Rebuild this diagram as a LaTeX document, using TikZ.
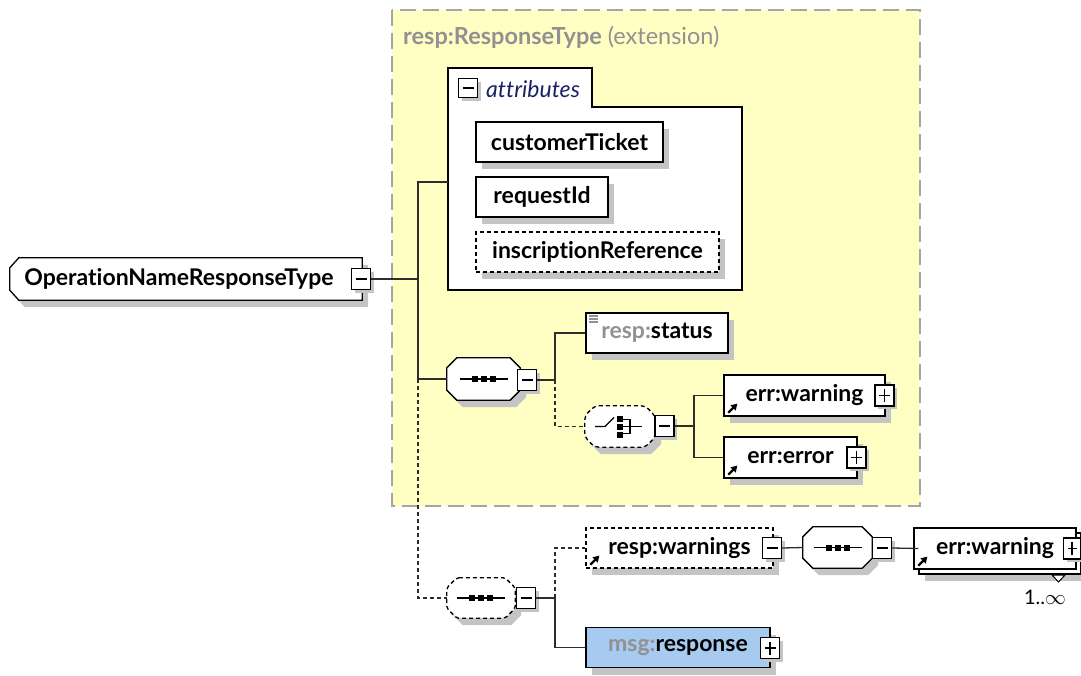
\documentclass[tikz,border=0pt]{standalone}
\usepackage{fontspec}
\setmainfont{Lato}[Ligatures=NoCommon]
\usetikzlibrary{calc,shadows,arrows.meta,backgrounds}

\definecolor{extfill}{RGB}{255,255,196}
\definecolor{extline}{RGB}{165,165,165}
\definecolor{shadowgray}{RGB}{196,196,196}
\definecolor{wiregray}{RGB}{45,45,45}
\definecolor{prefixgray}{RGB}{145,145,145}
\definecolor{typeblue}{RGB}{166,202,240}
\definecolor{attrblue}{RGB}{25,35,100}

\newcommand\xsdfont{\fontsize{23}{26}\selectfont\bfseries}

% octagon outline of a compositor node, with its shadow
\newcommand\drawoctagon[2]{%
  \fill[shadowgray] ($(#1.north west)+(16,7)$) -- ($(#1.north east)+(-4,7)$) -- ($(#1.north east)+(6,17)$)
    -- ($(#1.south east)+(6,-3)$) -- ($(#1.south east)+(-4,7)$) -- ($(#1.south west)+(16,7)$)
    -- ($(#1.south west)+(6,-3)$) -- ($(#1.north west)+(6,17)$) -- cycle;
  \draw[compline, #2] ($(#1.north west)+(10,0)$) -- ($(#1.north east)+(-10,0)$) -- ($(#1.north east)+(0,10)$)
    -- ($(#1.south east)+(0,-10)$) -- ($(#1.south east)+(-10,0)$) -- ($(#1.south west)+(10,0)$)
    -- ($(#1.south west)+(0,-10)$) -- ($(#1.north west)+(0,10)$) -- cycle;}

\tikzset{
  plainelem/.style={draw=black, line width=1.3pt, fill=white, inner sep=0pt, font=\xsdfont},
  elem/.style={plainelem, drop shadow={shadow xshift=6pt, shadow yshift=-7pt, fill=shadowgray, opacity=1}},
  optelem/.style={elem, dash pattern=on 4pt off 3pt},
  toggle/.style={draw=black, line width=1.1pt, fill=white, minimum width=19pt, minimum height=21pt, inner sep=0pt,
    drop shadow={shadow xshift=3pt, shadow yshift=-3pt, fill=shadowgray, opacity=1}},
  collapse/.style={toggle, path picture={
    \draw[line width=1.1pt] ([xshift=4pt]path picture bounding box.west) -- ([xshift=-4pt]path picture bounding box.east);}},
  expand/.style={toggle, path picture={
    \draw[line width=1.1pt] ([xshift=4pt]path picture bounding box.west) -- ([xshift=-4pt]path picture bounding box.east);
    \draw[line width=1.1pt] ([yshift=4pt]path picture bounding box.south) -- ([yshift=-4pt]path picture bounding box.north);}},
  compositor/.style={rectangle, inner sep=0pt},
  compline/.style={draw=black, line width=1.3pt, fill=white},
  optline/.style={dash pattern=on 4pt off 3pt},
  wireline/.style={draw=wiregray, line width=1.3pt},
  optwire/.style={wireline, dash pattern=on 4pt off 3pt},
  seqmark/.pic={
    \draw[line width=1.3pt] (-24,0) -- (24,0);
    \foreach \dx in {-9,0,9} \fill (\dx-3,-3) rectangle (\dx+3,3);
  },
  choicemark/.pic={
    \draw[line width=1.3pt] (-25,0) -- (-15,0) -- (-6,-9);
    \foreach \dy in {-8,0,8} \fill (-3,\dy-3) rectangle (3,\dy+3);
    \draw[line width=1.3pt] (3,-7) -- (10,-7) -- (10,7) -- (3,7);
    \draw[line width=1.3pt] (3,0) -- (22,0);
  },
  reficon/.pic={
    \draw[line width=2.2pt, -{Triangle[length=6pt,width=7pt]}] (0,0) -- (9,-9);
  }
}

\begin{document}
\begin{tikzpicture}[x=1pt, y=-1pt]
\useasboundingbox (0,0) rectangle (1081,675);

% extension frame
\draw[extline, fill=extfill, line width=1.3pt, dash pattern=on 16pt off 7pt] (392,10) rectangle (920,506);
\node[anchor=west, font=\fontsize{23.5}{26}\selectfont, text=prefixgray, inner sep=0pt] (exttitle) at (403,37)
  {\textbf{resp:ResponseType} (extension)};

% attributes group
\draw[line width=1.3pt, fill=white] (448,290) -- (448,68) -- (592,68) -- (592,107) -- (742,107) -- (742,290) -- cycle;
\coordinate (attrin) at (448,182);
\node[collapse, minimum width=19pt, minimum height=19pt, drop shadow={opacity=0}] (attrT) at (468,88) {};
\node[anchor=west, font=\fontsize{23}{26}\selectfont\itshape, text=attrblue, inner sep=0pt] (attrlabel) at (486,89) {attributes};
\node[elem, minimum width=187pt, minimum height=40pt] (ticket) at (569.5,142) {customerTicket};
\node[elem, minimum width=132pt, minimum height=40pt] (reqid) at (542,197) {requestId};
\node[optelem, minimum width=243pt, minimum height=40pt] (inscr) at (597.5,252) {inscriptionReference};

% root type
\node[font=\xsdfont, inner sep=0pt, minimum width=338pt, minimum height=42pt] (root) at (179,279) {OperationNameResponseType};
\begin{pgfonlayer}{background}
  \fill[shadowgray] ($(root.north west)+(15,7)$) -- ($(root.north east)+(20,7)$) -- ($(root.south east)+(20,7)$)
    -- ($(root.south west)+(15,7)$) -- ($(root.south west)+(6,-3)$) -- ($(root.north west)+(6,17)$) -- cycle;
  \draw[compline] ($(root.north west)+(9,0)$) -- ($(root.north east)+(14,0)$) -- ($(root.south east)+(14,0)$)
    -- ($(root.south west)+(9,0)$) -- ($(root.south west)+(0,-10)$) -- ($(root.north west)+(0,10)$) -- cycle;
\end{pgfonlayer}
\node[collapse] (rootT) at (361,279) {};
\coordinate (j1) at (418,279);

% base sequence
\node[compositor, minimum width=73pt, minimum height=42pt] (seq1) at (483.5,379) {};
\drawoctagon{seq1}{}
\pic at (seq1.center) {seqmark};
\node[collapse] (seq1T) at (527,380) {};
\coordinate (j2) at (555,380);
\node[elem, minimum width=142pt, minimum height=40pt] (status) at (657,333) {\textcolor{prefixgray}{resp:}status};
\foreach \ly in {316,319,322} \draw[prefixgray, line width=1.2pt] (589,\ly) -- (598,\ly);

% choice
\node[compositor, minimum width=70pt, minimum height=41pt] (choice) at (620,426.5) {};
\drawoctagon{choice}{optline, rounded corners=4pt}
\pic at (choice.center) {choicemark};
\node[collapse] (choiceT) at (664.5,426) {};
\coordinate (j3) at (694,426);
\node[elem, minimum width=161pt, minimum height=41pt] (warn) at (804.5,395.5) {err:warning};
\node[expand] (warnT) at (884.5,395.5) {};
\pic at ($(warn.south west)+(5,-4)$) {reficon};
\node[elem, minimum width=133pt, minimum height=41pt] (error) at (790.5,457.5) {err:error};
\node[expand] (errorT) at (856.5,457.5) {};
\pic at ($(error.south west)+(5,-4)$) {reficon};

% optional sequence
\node[compositor, minimum width=68pt, minimum height=40pt] (optseq) at (481,598) {};
\drawoctagon{optseq}{optline, rounded corners=2pt}
\pic at (optseq.center) {seqmark};
\node[collapse] (optseqT) at (526,598) {};
\coordinate (j4) at (555,598);
\node[optelem, minimum width=187pt, minimum height=40pt] (warns) at (679.5,548) {resp:warnings};
\node[collapse] (warnsT) at (772,548) {};
\pic at ($(warns.south west)+(5,-4)$) {reficon};
\node[compositor, minimum width=69pt, minimum height=41pt] (seq2) at (837.5,547.5) {};
\drawoctagon{seq2}{}
\pic at (seq2.center) {seqmark};
\node[collapse] (seq2T) at (882,548) {};
\node[elem, minimum width=162pt, minimum height=41pt] (warnback) at (1000,553.5) {};
\node[plainelem, minimum width=162pt, minimum height=41pt] (warn2) at (995,548.5) {err:warning};
\node[expand, minimum width=17pt] (warn2T) at (1072,548.5) {};
\pic at ($(warn2.south west)+(5,-4)$) {reficon};
\draw[line width=1pt, fill=white] (1052,575) -- (1065,575) -- (1058.5,582) -- cycle;
\node[font=\fontsize{20}{22}\selectfont, inner sep=0pt] (occurs) at (1045,597) {1..$\infty$};
\node[elem, fill=typeblue, minimum width=184pt, minimum height=40pt] (resp) at (678,647.5) {\textcolor{prefixgray}{msg:}response};
\node[expand] (respT) at (770,648) {};

% connectors
\draw[wireline] (rootT.east) -- (j1);
\draw[wireline] (j1) |- (attrin);
\draw[wireline] (j1) |- (seq1.west);
\draw[optwire] (seq1.west -| j1) |- (optseq.west);
\draw[wireline] (seq1T.east) -- (j2);
\draw[wireline] (j2) |- (status.west);
\draw[optwire] (j2) |- (choice.west);
\draw[wireline] (choiceT.east) -- (j3);
\draw[wireline] (j3) |- (warn.west);
\draw[wireline] (j3) |- (error.west);
\draw[wireline] (optseqT.east) -- (j4);
\draw[optwire] (j4) |- (warns.west);
\draw[wireline] (j4) |- (resp.west);
\draw[wireline] (warnsT.east) -- (seq2.west);
\draw[wireline] (seq2T.east) -- (warnback.west |- warn2.west);
\end{tikzpicture}
\end{document}
